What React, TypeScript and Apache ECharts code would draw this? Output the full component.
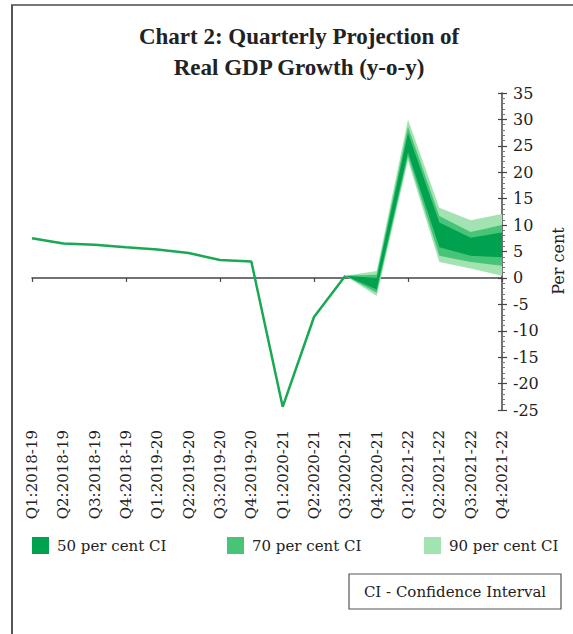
import React, { useEffect, useRef } from "react";
import * as echarts from "echarts";

const categories = [
  "Q1:2018-19", "Q2:2018-19", "Q3:2018-19", "Q4:2018-19",
  "Q1:2019-20", "Q2:2019-20", "Q3:2019-20", "Q4:2019-20",
  "Q1:2020-21", "Q2:2020-21", "Q3:2020-21", "Q4:2020-21",
  "Q1:2021-22", "Q2:2021-22", "Q3:2021-22", "Q4:2021-22",
];

const actualGrowth: (number | null)[] = [
  7.5, 6.5, 6.3, 5.8, 5.4, 4.7, 3.4, 3.1, -24.4, -7.4, 0.4,
  null, null, null, null, null,
];

const ci90Lower: (number | null)[] = [null, null, null, null, null, null, null, null, null, null, 0.4, -3.4, 22.2, 3.0, 1.8, 0.4];
const ci90Upper: (number | null)[] = [null, null, null, null, null, null, null, null, null, null, 0.4, 1.3, 30.0, 13.3, 10.9, 12.1];
const ci70Lower: (number | null)[] = [null, null, null, null, null, null, null, null, null, null, 0.4, -2.8, 23.0, 4.2, 3.0, 2.3];
const ci70Upper: (number | null)[] = [null, null, null, null, null, null, null, null, null, null, 0.4, 0.6, 28.6, 11.7, 8.7, 10.0];
const ci50Lower: (number | null)[] = [null, null, null, null, null, null, null, null, null, null, 0.4, -2.2, 23.8, 5.8, 4.2, 3.9];
const ci50Upper: (number | null)[] = [null, null, null, null, null, null, null, null, null, null, 0.4, 0.0, 27.4, 10.5, 7.6, 8.6];

const FONT = "DejaVu Serif";
const TITLE_FONT = "Liberation Serif";
const C50 = "#00a14f";
const C70 = "#47c477";
const C90 = "#a2e3b1";
const LINE = "#19a853";
const AXIS = "#444";

function bandRenderer(lower: (number | null)[], upper: (number | null)[], color: string) {
  return (_params: any, api: any) => {
    const idx: number[] = [];
    lower.forEach((v, i) => {
      if (v !== null && upper[i] !== null) idx.push(i);
    });
    const top = idx.map((i) => api.coord([i, upper[i]]));
    const bottom = idx
      .slice()
      .reverse()
      .map((i) => api.coord([i, lower[i]]));
    return {
      type: "polygon",
      shape: { points: top.concat(bottom) },
      style: { fill: color },
    };
  };
}

export default function App() {
  const ref = useRef<HTMLDivElement>(null);

  useEffect(() => {
    if (!ref.current) return;
    const chart = echarts.init(ref.current, null, { renderer: "svg" });
    const legendBase = {
      icon: "rect",
      itemWidth: 17,
      itemHeight: 17,
      padding: 0,
      selectedMode: false,
      textStyle: { fontFamily: FONT, fontSize: 15, color: "#222", padding: [0, 0, 0, 3] },
    };
    chart.setOption({
      animation: false,
      backgroundColor: "#fff",
      title: {
        text: "Chart 2: Quarterly Projection of\nReal GDP Growth (y-o-y)",
        left: 294,
        textAlign: "center",
        top: 16,
        textStyle: {
          fontFamily: TITLE_FONT,
          fontWeight: "bold",
          fontSize: 23,
          lineHeight: 31,
          color: "#222",
        },
      },
      grid: { left: 32, right: 71, top: 93, bottom: 224, containLabel: false },
      legend: [
        { ...legendBase, data: ["50 per cent CI"], left: 32, top: 537 },
        { ...legendBase, data: ["70 per cent CI"], left: 227, top: 537 },
        { ...legendBase, data: ["90 per cent CI"], left: 424, top: 537 },
      ],
      xAxis: [
        {
          type: "category",
          data: categories,
          boundaryGap: false,
          position: "bottom",
          axisLine: { onZero: true, lineStyle: { color: AXIS, width: 1.5 } },
          axisTick: { show: true, length: 4, lineStyle: { color: AXIS, width: 1.2 } },
          axisLabel: { show: false },
          splitLine: { show: false },
        },
        {
          type: "category",
          data: categories,
          boundaryGap: false,
          position: "bottom",
          axisLine: { show: false, onZero: false },
          axisTick: { show: false },
          axisLabel: {
            rotate: 90,
            margin: 20,
            interval: 0,
            fontFamily: FONT,
            fontSize: 15,
            color: "#222",
          },
          splitLine: { show: false },
        },
      ],
      yAxis: [
        {
          type: "value",
          position: "right",
          min: -25,
          max: 35,
          interval: 5,
          axisLine: { show: true, lineStyle: { color: AXIS, width: 1.5 } },
          axisTick: { show: true, length: 5, lineStyle: { color: AXIS, width: 1.2 } },
          minorTick: { show: true, splitNumber: 5, length: 3, lineStyle: { color: "#777" } },
          axisLabel: { margin: 11, fontFamily: FONT, fontSize: 16, color: "#222" },
          splitLine: { show: false },
        },
        {
          type: "value",
          position: "right",
          min: -25,
          max: 35,
          interval: 5,
          axisLine: { show: false },
          axisTick: { show: true, inside: true, length: 4, lineStyle: { color: AXIS, width: 1.2 } },
          axisLabel: { show: false },
          splitLine: { show: false },
        },
      ],
      series: [
        {
          type: "custom",
          name: "90 per cent CI",
          renderItem: bandRenderer(ci90Lower, ci90Upper, C90),
          data: [[15, 0]],
          itemStyle: { color: C90 },
          clip: false,
          z: 2,
        },
        {
          type: "custom",
          name: "70 per cent CI",
          renderItem: bandRenderer(ci70Lower, ci70Upper, C70),
          data: [[15, 0]],
          itemStyle: { color: C70 },
          clip: false,
          z: 3,
        },
        {
          type: "custom",
          name: "50 per cent CI",
          renderItem: bandRenderer(ci50Lower, ci50Upper, C50),
          data: [[15, 0]],
          itemStyle: { color: C50 },
          clip: false,
          z: 4,
        },
        {
          type: "line",
          name: "Real GDP growth",
          data: actualGrowth,
          symbol: "none",
          lineStyle: { color: LINE, width: 2.5 },
          itemStyle: { color: LINE },
          z: 5,
        },
      ],
      graphic: [
        { type: "line", shape: { x1: 11, y1: 5, x2: 573, y2: 5 }, style: { stroke: "#777", lineWidth: 2 } },
        { type: "line", shape: { x1: 12, y1: 5, x2: 12, y2: 634 }, style: { stroke: "#555", lineWidth: 2 } },
        {
          type: "text",
          x: 558,
          y: 261,
          rotation: Math.PI / 2,
          style: {
            text: "Per cent",
            fontFamily: FONT,
            fontSize: 16,
            fill: "#222",
            textAlign: "center",
            textVerticalAlign: "middle",
          },
        },
        {
          type: "rect",
          shape: { x: 349, y: 574, width: 212, height: 35 },
          style: { fill: "none", stroke: "#555", lineWidth: 1.2 },
        },
        {
          type: "text",
          x: 455,
          y: 591.5,
          style: {
            text: "CI - Confidence Interval",
            fontFamily: FONT,
            fontSize: 15,
            fill: "#222",
            textAlign: "center",
            textVerticalAlign: "middle",
          },
        },
      ],
    });
    return () => chart.dispose();
  }, []);

  return (
    <div
      ref={ref}
      style={{ position: "absolute", left: 0, top: 0, width: 573, height: 634, background: "#fff" }}
    />
  );
}
